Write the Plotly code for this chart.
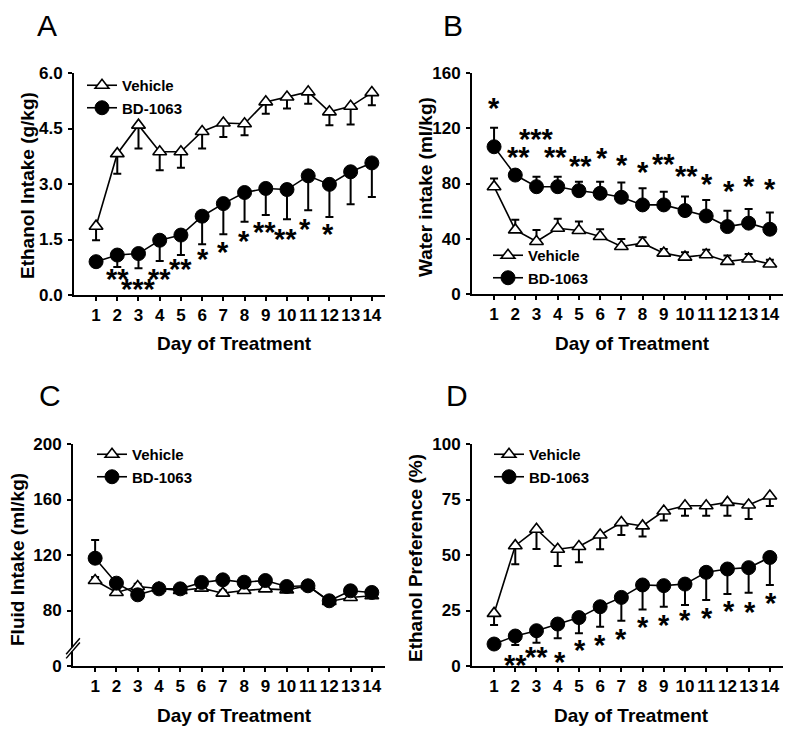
import plotly.graph_objects as go

days = list(range(1, 15))
day_labels = [str(d) for d in days]

# Panel A: Ethanol intake (g/kg), error bars downward
a_vehicle = [1.86, 3.82, 4.59, 3.87, 3.87, 4.42, 4.65, 4.63, 5.22, 5.35, 5.49, 4.95, 5.10, 5.47]
a_vehicle_sem = [0.38, 0.54, 0.63, 0.50, 0.43, 0.46, 0.38, 0.31, 0.32, 0.31, 0.32, 0.36, 0.49, 0.34]
a_bd = [0.90, 1.08, 1.12, 1.48, 1.62, 2.13, 2.47, 2.77, 2.88, 2.85, 3.22, 2.99, 3.33, 3.57]
a_bd_sem = [0.08, 0.32, 0.40, 0.56, 0.54, 0.76, 0.83, 0.79, 0.72, 0.80, 0.93, 0.88, 0.88, 0.92]
a_star_x = [2.0, 3.02, 3.98, 5.0, 6.05, 6.96, 7.96, 8.92, 9.94, 10.86, 11.92]
a_star_y = [0.54, 0.27, 0.54, 0.81, 1.08, 1.26, 1.57, 1.80, 1.62, 1.89, 1.75]
a_star_txt = ["**", "***", "**", "**", "*", "*", "*", "**", "**", "*", "*"]

# Panel B: Water intake (ml/kg), error bars upward
b_vehicle = [77.7, 46.4, 38.0, 47.6, 46.0, 41.6, 34.4, 36.8, 29.6, 26.7, 28.4, 23.6, 25.3, 21.7]
b_vehicle_sem = [6.0, 7.3, 8.4, 6.8, 6.5, 5.3, 5.5, 4.3, 2.9, 3.6, 3.6, 4.3, 3.6, 3.1]
b_bd = [106.6, 86.1, 77.7, 77.7, 74.8, 72.9, 70.0, 64.5, 64.5, 60.4, 56.5, 48.8, 51.3, 46.9]
b_bd_sem = [13.7, 2.0, 7.2, 7.2, 6.5, 8.4, 10.8, 12.0, 9.6, 10.1, 11.6, 11.4, 10.3, 12.1]
b_star_x = [1.0, 2.17, 3.0, 3.91, 5.08, 6.07, 7.02, 8.0, 8.98, 10.09, 11.06, 12.06, 13.03, 14.02]
b_star_y = [137.9, 101.8, 115.0, 101.8, 95.8, 101.3, 96.5, 91.0, 97.0, 88.5, 82.5, 77.7, 81.3, 78.9]
b_star_txt = ["*", "**", "***", "**", "**", "*", "*", "*", "**", "**", "*", "*", "*", "*"]

# Panel C: Fluid intake (ml/kg), broken axis, error bars upward
c_vehicle = [101.6, 93.0, 97.3, 96.1, 94.4, 96.1, 92.5, 94.4, 95.6, 94.9, 97.8, 86.5, 89.4, 90.6]
c_vehicle_sem = [2.5, 2.0, 2.0, 2.0, 1.5, 2.0, 2.0, 2.0, 2.0, 1.5, 1.5, 1.5, 1.5, 1.5]
c_bd = [117.7, 99.7, 91.3, 95.6, 95.6, 100.2, 102.1, 100.4, 101.6, 97.3, 97.8, 87.0, 94.2, 93.0]
c_bd_sem = [13.2, 3.0, 3.0, 2.0, 2.0, 3.0, 3.0, 3.0, 3.0, 2.0, 2.0, 2.0, 2.0, 2.0]
c_tickvals = [40, 80, 120, 160, 200]
c_ticktext = ["0", "80", "120", "160", "200"]

# Panel D: Ethanol preference (%), error bars downward
d_vehicle = [23.7, 54.2, 61.6, 52.6, 53.8, 59.0, 64.6, 63.1, 69.8, 72.2, 72.2, 73.7, 72.5, 76.6]
d_vehicle_sem = [5.2, 8.4, 8.9, 7.6, 7.1, 6.4, 5.6, 4.8, 4.3, 4.5, 4.5, 6.0, 6.3, 4.5]
d_bd = [9.9, 13.5, 15.9, 18.9, 21.8, 26.7, 30.9, 36.5, 36.2, 36.9, 42.2, 43.7, 44.3, 48.9]
d_bd_sem = [1.0, 4.0, 5.4, 6.4, 7.1, 9.0, 10.5, 11.0, 9.5, 9.4, 12.5, 11.3, 11.3, 12.4]
d_star_x = [1.99, 3.02, 4.09, 5.03, 6.01, 6.98, 8.02, 9.0, 10.02, 11.05, 12.07, 13.05, 14.07]
d_star_y = [2.25, 6.0, 3.5, 9.0, 11.4, 14.0, 19.2, 20.4, 22.7, 23.3, 26.7, 26.3, 30.2]
d_star_txt = ["**", "**", "*", "*", "*", "*", "*", "*", "*", "*", "*", "*", "*"]

FONT = "Liberation Sans, Arial, sans-serif"
W, H = 800, 735

fig = go.Figure()


def err(sem, down):
    zeros = [0] * len(sem)
    return dict(type="data", symmetric=False,
                array=zeros if down else sem,
                arrayminus=sem if down else zeros,
                color="black", thickness=2, width=4)


def add_pair(idx, veh, veh_sem, bd, bd_sem, down):
    sfx = "" if idx == 1 else str(idx)
    leg = "legend" if idx == 1 else "legend" + str(idx)
    fig.add_trace(go.Scatter(
        x=days, y=veh, mode="lines+markers", name="Vehicle",
        xaxis="x" + sfx, yaxis="y" + sfx, legend=leg,
        line=dict(color="black", width=1.6),
        marker=dict(symbol="triangle-up", size=12, color="white",
                    line=dict(color="black", width=1.6)),
        error_y=err(veh_sem, down)))
    fig.add_trace(go.Scatter(
        x=days, y=bd, mode="lines+markers", name="BD-1063",
        xaxis="x" + sfx, yaxis="y" + sfx, legend=leg,
        line=dict(color="black", width=1.6),
        marker=dict(symbol="circle", size=14, color="black",
                    line=dict(color="black", width=1)),
        error_y=err(bd_sem, down)))


add_pair(1, a_vehicle, a_vehicle_sem, a_bd, a_bd_sem, True)
add_pair(2, b_vehicle, b_vehicle_sem, b_bd, b_bd_sem, False)
add_pair(3, c_vehicle, c_vehicle_sem, c_bd, c_bd_sem, False)
add_pair(4, d_vehicle, d_vehicle_sem, d_bd, d_bd_sem, True)

# plot-area boxes in pixels (left, right, top, bottom)
boxes = {
    1: (74, 385, 73, 295),
    2: (472, 783, 73, 294),
    3: (73, 385, 444, 666),
    4: (472, 783, 444, 666),
}
yranges = {1: [0, 6], 2: [0, 160], 3: [40, 200], 4: [0, 100]}
ytickvals = {1: [0, 1.5, 3.0, 4.5, 6.0], 2: [0, 40, 80, 120, 160],
             3: c_tickvals, 4: [0, 25, 50, 75, 100]}
yticktext = {1: ["0.0", "1.5", "3.0", "4.5", "6.0"], 2: ["0", "40", "80", "120", "160"],
             3: c_ticktext, 4: ["0", "25", "50", "75", "100"]}

axis_common = dict(showgrid=False, zeroline=False, showline=True, linecolor="black",
                   linewidth=2, ticks="outside", tickcolor="black", tickwidth=1.5,
                   ticklen=4, automargin=False,
                   tickfont=dict(family=FONT, size=17, color="black", weight="bold"))

layout = dict(template="none", width=W, height=H, margin=dict(l=0, r=0, t=0, b=0, pad=0),
              plot_bgcolor="white", paper_bgcolor="white", showlegend=True)

for i, (l, r, t, b) in boxes.items():
    sfx = "" if i == 1 else str(i)
    layout["xaxis" + sfx] = dict(axis_common, domain=[l / W, r / W], range=[-0.04, 14.62],
                                 tickvals=days, ticktext=day_labels, anchor="y" + sfx,
                                 ticklabelstandoff=0)
    layout["yaxis" + sfx] = dict(axis_common, domain=[1 - b / H, 1 - t / H], range=yranges[i],
                                 tickvals=ytickvals[i], ticktext=yticktext[i], anchor="x" + sfx,
                                 ticklabelstandoff=2)

# legends
legend_pos = {1: (82, 69), 2: (488, 239), 3: (92, 438), 4: (489, 438)}
for i, (lx, ly) in legend_pos.items():
    key = "legend" if i == 1 else "legend" + str(i)
    layout[key] = dict(x=lx / W, y=1 - ly / H, xanchor="left", yanchor="top",
                       bgcolor="rgba(0,0,0,0)", borderwidth=0, tracegroupgap=0,
                       font=dict(family=FONT, size=15, color="black", weight="bold"),
                       itemsizing="trace")

fig.update_layout(**layout)

anns = []
# panel letters
for letter, px, py in [("A", 47, 25), ("B", 453, 25), ("C", 50, 395), ("D", 457, 395)]:
    anns.append(dict(text=letter, x=px / W, y=1 - py / H, xref="paper", yref="paper",
                     showarrow=False, xanchor="center", yanchor="middle",
                     font=dict(family=FONT, size=30, color="black")))
# axis titles
xt = [(234, 343), (632, 343), (234, 715), (631, 715)]
for px, py in xt:
    anns.append(dict(text="Day of Treatment", x=px / W, y=1 - py / H, xref="paper", yref="paper",
                     showarrow=False, xanchor="center", yanchor="middle",
                     font=dict(family=FONT, size=19, color="black", weight="bold")))
yt = [("Ethanol Intake (g/kg)", 28, 186), ("Water intake (ml/kg)", 425, 187),
      ("Fluid Intake (ml/kg)", 17, 560), ("Ethanol Preference (%)", 415, 558)]
for txt, px, py in yt:
    anns.append(dict(text=txt, x=px / W, y=1 - py / H, xref="paper", yref="paper",
                     showarrow=False, xanchor="center", yanchor="middle", textangle=-90,
                     font=dict(family=FONT, size=19, color="black", weight="bold")))
# significance stars
for sfx, xs, ys, ts in [("", a_star_x, a_star_y, a_star_txt),
                        ("2", b_star_x, b_star_y, b_star_txt),
                        ("4", d_star_x, d_star_y, d_star_txt)]:
    for x, y, t in zip(xs, ys, ts):
        anns.append(dict(text=t, x=x, y=y, xref="x" + sfx, yref="y" + sfx,
                         showarrow=False, xanchor="center", yanchor="middle", yshift=-4,
                         font=dict(family=FONT, size=29, color="black", weight="bold")))
fig.update_layout(annotations=anns)

# broken-axis marks on panel C
fig.add_shape(type="rect", xref="x3 domain", yref="y3", x0=-0.012, x1=0.012, y0=50.5, y1=53.5,
              fillcolor="white", line=dict(width=0), layer="above")
for y0 in (45.5, 48.5):
    fig.add_shape(type="line", xref="x3 domain", yref="y3", x0=-0.022, x1=0.022,
                  y0=y0, y1=y0 + 11.5, line=dict(color="black", width=1.5), layer="above")

fig.write_html("out.html", config={"displayModeBar": False},
               post_script="document.body.style.margin='0px';document.body.style.overflow='hidden';")
